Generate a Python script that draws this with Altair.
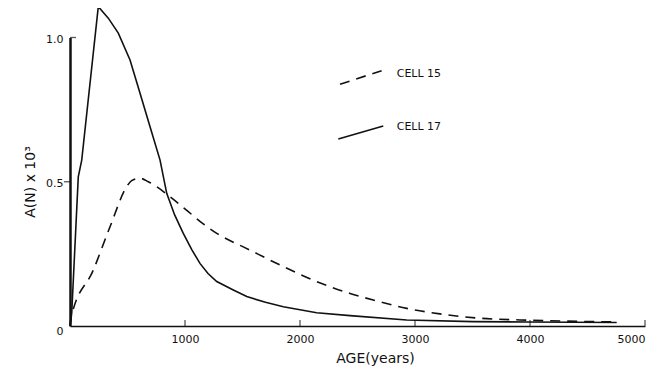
import altair as alt
import pandas as pd

# ---- data ----
age_cell15 = [0, 10, 203, 348, 493, 536, 609, 681, 754, 870, 1276, 1565, 1855, 2145, 2435, 2637, 2928, 3217, 3565, 3913, 4300, 4757]
val_cell15 = [0.0, 0.03, 0.194, 0.344, 0.483, 0.504, 0.512, 0.500, 0.483, 0.448, 0.321, 0.263, 0.206, 0.154, 0.113, 0.090, 0.061, 0.042, 0.027, 0.021, 0.017, 0.014]

age_cell17 = [0, 15, 72, 102, 246, 333, 420, 522, 609, 696, 783, 841, 910, 985, 1060, 1130, 1200, 1276, 1420, 1537, 1700, 1855, 2145, 2435, 2928, 3504, 3971, 4754]
val_cell17 = [0.0, 0.045, 0.517, 0.575, 1.107, 1.067, 1.015, 0.922, 0.807, 0.691, 0.575, 0.46, 0.385, 0.321, 0.264, 0.217, 0.182, 0.154, 0.125, 0.102, 0.082, 0.067, 0.046, 0.036, 0.021, 0.015, 0.014, 0.012]

x_tick_values = [1000, 2000, 3000, 4000, 5000]
y_tick_values = [0, 0.5, 1.0]

# in-plot key (slanted sample lines + labels), in data units
key_dash_x = [2348, 2710]
key_dash_y = [0.838, 0.885]
key_solid_x = [2333, 2724]
key_solid_y = [0.648, 0.693]
key_labels = ["CELL 15", "CELL 17"]
key_label_x = [2841, 2841]
key_label_y = [0.873, 0.689]

FONT = "DejaVu Sans"
INK = "#111111"

df15 = pd.DataFrame({"age": age_cell15, "value": val_cell15})
df17 = pd.DataFrame({"age": age_cell17, "value": val_cell17})
dkey_dash = pd.DataFrame({"age": key_dash_x, "value": key_dash_y})
dkey_solid = pd.DataFrame({"age": key_solid_x, "value": key_solid_y})
dkey_lab = pd.DataFrame({"age": key_label_x, "value": key_label_y, "label": key_labels})
dxt = pd.DataFrame({"age": x_tick_values})

xscale = alt.Scale(domain=[0, 5000], nice=False, zero=True)
yscale = alt.Scale(domain=[0, 1.0], nice=False, zero=True)

x_axis = alt.Axis(
    values=x_tick_values, ticks=False, grid=False, format="d",
    domainColor=INK, domainWidth=1.5,
    labelFont=FONT, labelFontSize=11, labelColor=INK, labelPadding=7,
    labelBaseline="top",
    title="AGE(years)", titleFont=FONT, titleFontSize=14, titleFontWeight="normal",
    titleColor=INK, titleX=305, titleY=36, titleBaseline="alphabetic", titleAlign="center",
)
y_axis = alt.Axis(
    values=y_tick_values, ticks=False, grid=False,
    domainColor=INK, domainWidth=2.5,
    labelFont=FONT, labelFontSize=11, labelColor=INK, labelPadding=7,
    labelExpr="datum.value == 0 ? '0' : format(datum.value, '.1f')",
    labelOffset={"condition": {"test": "datum.value === 0", "value": 5.5}, "value": 1.5},
    title="A(N)  x  10³", titleFont=FONT, titleFontSize=14, titleFontWeight="normal",
    titleColor=INK, titleX=-40, titleY=144, titleAngle=-90,
    titleAlign="center", titleBaseline="middle",
)

X = lambda: alt.X("age:Q", scale=xscale, axis=x_axis)
Y = lambda: alt.Y("value:Q", scale=yscale, axis=y_axis)

line17 = alt.Chart(df17).mark_line(color=INK, strokeWidth=1.6, interpolate="linear").encode(
    x=X(), y=Y(), order="age:Q")
line15 = alt.Chart(df15).mark_line(color=INK, strokeWidth=1.6, strokeDash=[10, 7],
                                   interpolate="monotone").encode(x=X(), y=Y(), order="age:Q")

key_d = alt.Chart(dkey_dash).mark_line(color=INK, strokeWidth=1.6, strokeDash=[10, 7]).encode(x=X(), y=Y())
key_s = alt.Chart(dkey_solid).mark_line(color=INK, strokeWidth=1.6).encode(x=X(), y=Y())
key_t = alt.Chart(dkey_lab).mark_text(align="left", baseline="middle", font=FONT,
                                      fontSize=11, color=INK).encode(x=X(), y=Y(), text="label:N")

xticks = alt.Chart(dxt).mark_tick(orient="vertical", size=6, thickness=1.3, yOffset=-3,
                                  color=INK).encode(x=X(), y=alt.datum(0, scale=yscale))
yt_left = alt.Chart(pd.DataFrame({"value": [y_tick_values[1]]})).mark_tick(
    orient="horizontal", size=6, thickness=1.3, xOffset=-3, color=INK
).encode(x=alt.datum(0, scale=xscale), y=Y())
yt_right = alt.Chart(pd.DataFrame({"value": [y_tick_values[2]]})).mark_tick(
    orient="horizontal", size=6, thickness=1.3, xOffset=3, color=INK
).encode(x=alt.datum(0, scale=xscale), y=Y())

chart = alt.layer(line15, line17, key_d, key_s, key_t, xticks, yt_left, yt_right).properties(
    width=575, height=288.5,
    autosize=alt.AutoSizeParams(type="none"),
    padding={"left": 62, "top": 29.5, "right": 18, "bottom": 40},
).configure(background="white").configure_view(strokeWidth=0, stroke="transparent")

chart.save("out.html", embed_options={"renderer": "svg", "actions": False})
